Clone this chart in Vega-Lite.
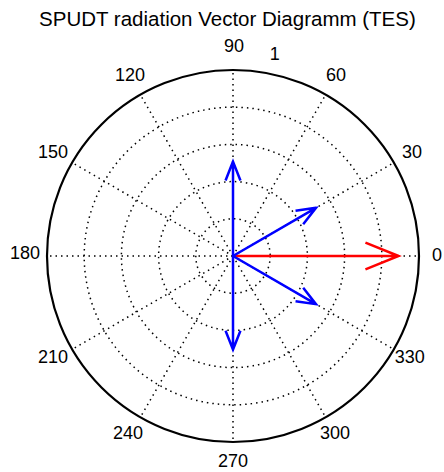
{
  "$schema": "https://vega.github.io/schema/vega-lite/v6.json",
  "width": 444,
  "height": 472,
  "autosize": "none",
  "padding": 0,
  "background": "white",
  "config": {"view": {"stroke": null}, "font": "Liberation Sans"},
  "datasets": {
    "rings": [{"r": 0.2}, {"r": 0.4}, {"r": 0.6}, {"r": 0.8}],
    "outer": [{"r": 1}],
    "spokes": [
      {"a": 0, "x": 0, "y": 0, "x2": 1, "y2": 0},
      {"a": 30, "x": 0, "y": 0, "x2": 0.866, "y2": 0.5},
      {"a": 60, "x": 0, "y": 0, "x2": 0.5, "y2": 0.866},
      {"a": 90, "x": 0, "y": 0, "x2": 0, "y2": 1},
      {"a": 120, "x": 0, "y": 0, "x2": -0.5, "y2": 0.866},
      {"a": 150, "x": 0, "y": 0, "x2": -0.866, "y2": 0.5},
      {"a": 180, "x": 0, "y": 0, "x2": -1, "y2": 0},
      {"a": 210, "x": 0, "y": 0, "x2": -0.866, "y2": -0.5},
      {"a": 240, "x": 0, "y": 0, "x2": -0.5, "y2": -0.866},
      {"a": 270, "x": 0, "y": 0, "x2": 0, "y2": -1},
      {"a": 300, "x": 0, "y": 0, "x2": 0.5, "y2": -0.866},
      {"a": 330, "x": 0, "y": 0, "x2": 0.866, "y2": -0.5}
    ],
    "labels": [
      {"t": "0", "x": 1.097, "y": 0.0},
      {"t": "30", "x": 0.962, "y": 0.55},
      {"t": "60", "x": 0.554, "y": 0.96},
      {"t": "90", "x": 0.005, "y": 1.12},
      {"t": "120", "x": -0.554, "y": 0.96},
      {"t": "150", "x": -0.968, "y": 0.55},
      {"t": "180", "x": -1.118, "y": 0.01},
      {"t": "210", "x": -0.968, "y": -0.545},
      {"t": "240", "x": -0.565, "y": -0.95},
      {"t": "270", "x": 0.0, "y": -1.1},
      {"t": "300", "x": 0.548, "y": -0.95},
      {"t": "330", "x": 0.95, "y": -0.545},
      {"t": "1", "x": 0.225, "y": 1.075}
    ],
    "vectors": [
      {"vec": "v0", "c": "red", "i": 0, "x": 0, "y": 0},
      {"vec": "v0", "c": "red", "i": 1, "x": 0.89, "y": 0},
      {"vec": "v0", "c": "red", "i": 2, "x": 0.712, "y": 0.0712},
      {"vec": "v0", "c": "red", "i": 3, "x": 0.89, "y": 0},
      {"vec": "v0", "c": "red", "i": 4, "x": 0.712, "y": -0.0712},
      {"vec": "v1", "c": "blue", "i": 0, "x": 0, "y": 0},
      {"vec": "v1", "c": "blue", "i": 1, "x": 0.446, "y": 0.2575},
      {"vec": "v1", "c": "blue", "i": 2, "x": 0.3362, "y": 0.2417},
      {"vec": "v1", "c": "blue", "i": 3, "x": 0.446, "y": 0.2575},
      {"vec": "v1", "c": "blue", "i": 4, "x": 0.3774, "y": 0.1703},
      {"vec": "v2", "c": "blue", "i": 0, "x": 0, "y": 0},
      {"vec": "v2", "c": "blue", "i": 1, "x": 0, "y": 0.505},
      {"vec": "v2", "c": "blue", "i": 2, "x": -0.04, "y": 0.404},
      {"vec": "v2", "c": "blue", "i": 3, "x": 0, "y": 0.505},
      {"vec": "v2", "c": "blue", "i": 4, "x": 0.04, "y": 0.404},
      {"vec": "v3", "c": "blue", "i": 0, "x": 0, "y": 0},
      {"vec": "v3", "c": "blue", "i": 1, "x": 0, "y": -0.5},
      {"vec": "v3", "c": "blue", "i": 2, "x": 0.04, "y": -0.4},
      {"vec": "v3", "c": "blue", "i": 3, "x": 0, "y": -0.5},
      {"vec": "v3", "c": "blue", "i": 4, "x": -0.04, "y": -0.4},
      {"vec": "v4", "c": "blue", "i": 0, "x": 0, "y": 0},
      {"vec": "v4", "c": "blue", "i": 1, "x": 0.446, "y": -0.2575},
      {"vec": "v4", "c": "blue", "i": 2, "x": 0.3774, "y": -0.1703},
      {"vec": "v4", "c": "blue", "i": 3, "x": 0.446, "y": -0.2575},
      {"vec": "v4", "c": "blue", "i": 4, "x": 0.3362, "y": -0.2417}
    ],
    "title": [{"t": "SPUDT radiation Vector Diagramm (TES)", "x": -0.03, "y": 1.23}]
  },
  "layer": [
    {
      "data": {"name": "spokes"},
      "mark": {"type": "rule", "color": "black", "strokeWidth": 1.5, "strokeDash": [1.5, 4]},
      "encoding": {
        "x": {"field": "x", "type": "quantitative", "scale": {"domain": [-1, 1], "range": [47, 419]}, "axis": null},
        "y": {"field": "y", "type": "quantitative", "scale": {"domain": [-1, 1], "range": [443, 69]}, "axis": null},
        "x2": {"field": "x2"},
        "y2": {"field": "y2"}
      }
    },
    {
      "data": {"name": "rings"},
      "mark": {"type": "point", "shape": "circle", "filled": false, "color": "black", "opacity": 1, "strokeWidth": 1.5, "strokeDash": [1.5, 4]},
      "encoding": {
        "x": {"datum": 0, "type": "quantitative"},
        "y": {"datum": 0, "type": "quantitative"},
        "size": {"field": "r", "type": "quantitative", "scale": {"type": "pow", "exponent": 2, "domain": [0, 1], "range": [0, 138384]}, "legend": null}
      }
    },
    {
      "data": {"name": "outer"},
      "mark": {"type": "point", "shape": "circle", "filled": false, "color": "black", "opacity": 1, "strokeWidth": 2.2},
      "encoding": {
        "x": {"datum": 0, "type": "quantitative"},
        "y": {"datum": 0, "type": "quantitative"},
        "size": {"field": "r", "type": "quantitative", "scale": {"type": "pow", "exponent": 2, "domain": [0, 1], "range": [0, 138384]}, "legend": null}
      }
    },
    {
      "data": {"name": "vectors"},
      "mark": {"type": "line", "strokeWidth": 2.5, "strokeJoin": "miter", "strokeCap": "butt"},
      "encoding": {
        "x": {"field": "x", "type": "quantitative"},
        "y": {"field": "y", "type": "quantitative"},
        "detail": {"field": "vec"},
        "order": {"field": "i", "type": "quantitative"},
        "color": {"field": "c", "type": "nominal", "scale": {"domain": ["red", "blue"], "range": ["#ff0000", "#0000ff"]}, "legend": null}
      }
    },
    {
      "data": {"name": "labels"},
      "mark": {"type": "text", "fontSize": 18, "font": "Liberation Sans", "color": "black", "align": "center", "baseline": "middle"},
      "encoding": {
        "x": {"field": "x", "type": "quantitative"},
        "y": {"field": "y", "type": "quantitative"},
        "text": {"field": "t"}
      }
    },
    {
      "data": {"name": "title"},
      "mark": {"type": "text", "fontSize": 20.5, "font": "Liberation Sans", "color": "black", "align": "center", "baseline": "alphabetic"},
      "encoding": {
        "x": {"field": "x", "type": "quantitative"},
        "y": {"field": "y", "type": "quantitative"},
        "text": {"field": "t"}
      }
    }
  ]
}
